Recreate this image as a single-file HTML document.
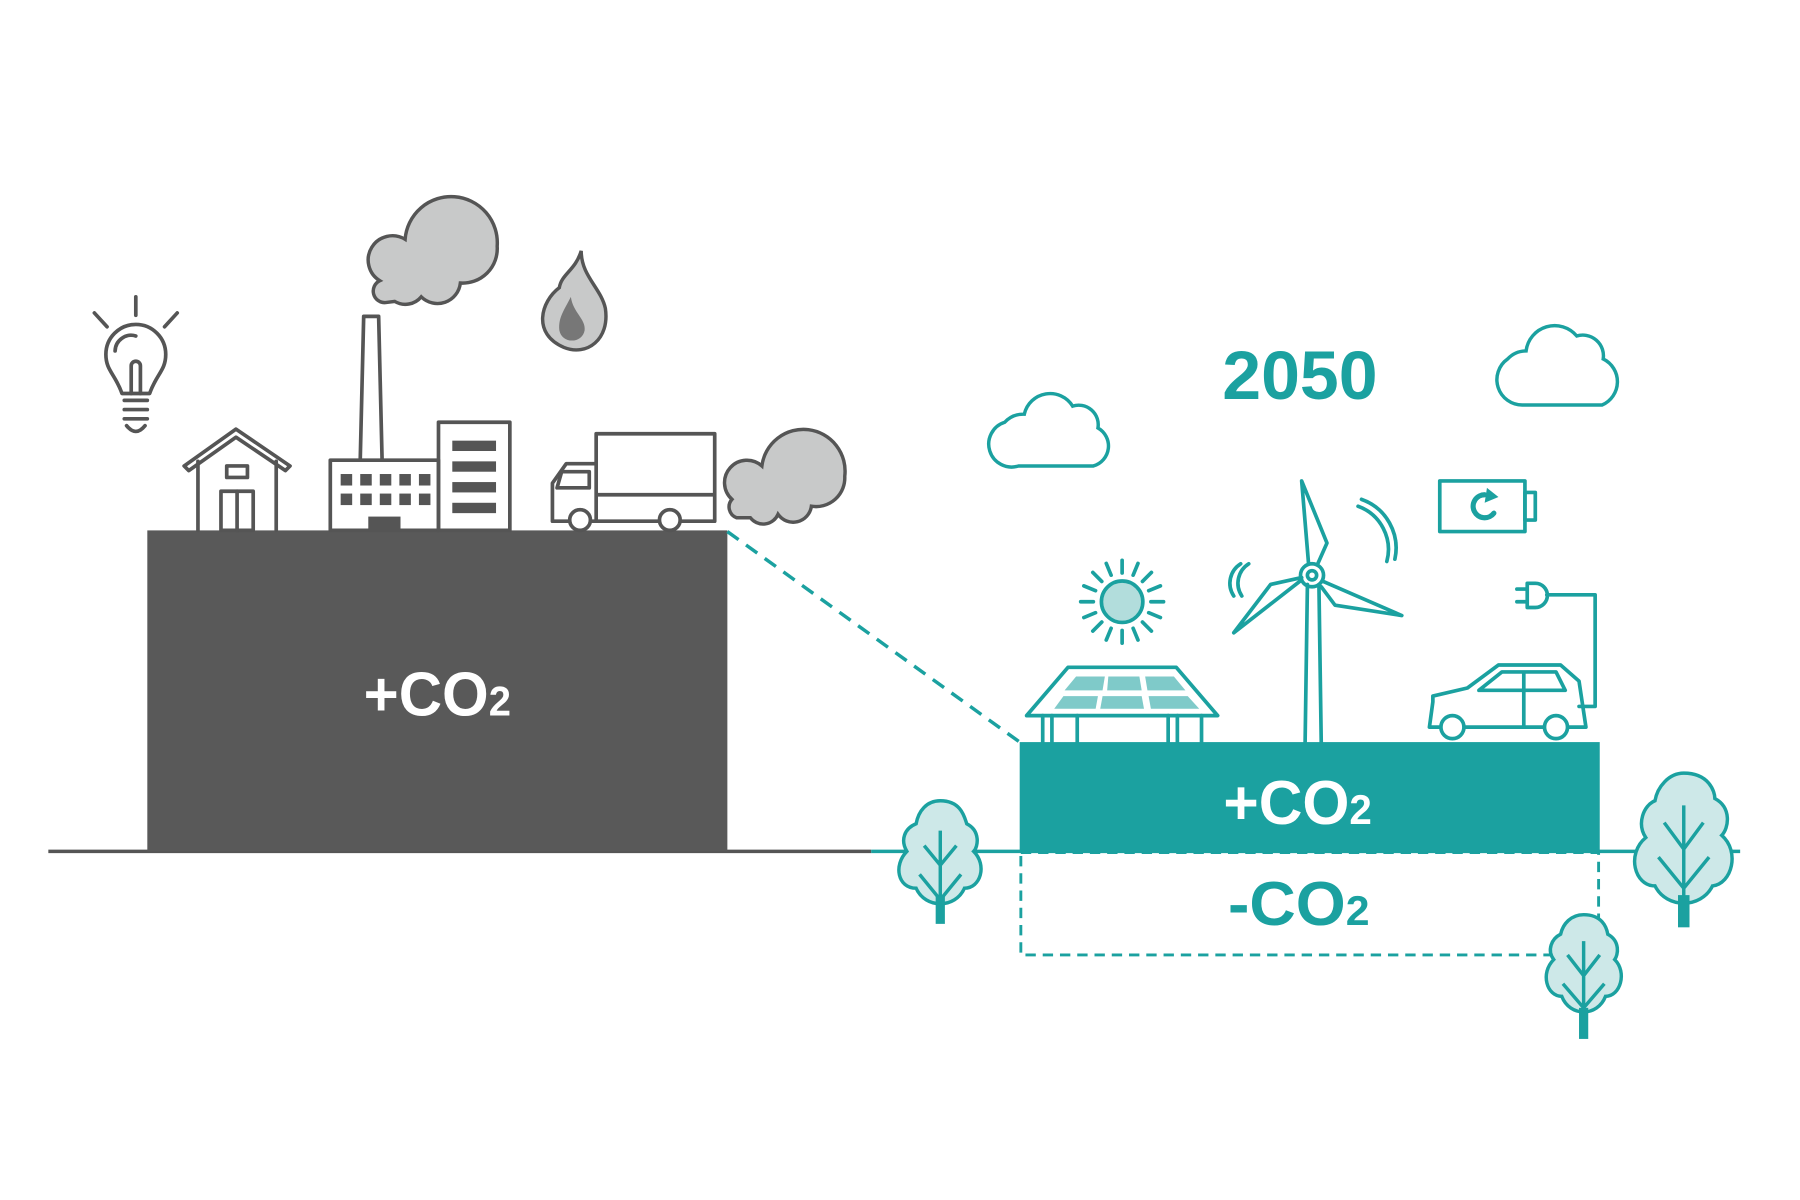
<!DOCTYPE html>
<html><head><meta charset="utf-8"><style>
html,body{margin:0;padding:0;background:#fff;width:1800px;height:1200px;overflow:hidden}
svg{display:block}
text{font-family:"Liberation Sans Narrow","Liberation Sans",sans-serif;font-weight:bold}
</style></head><body>
<svg width="1800" height="1200" viewBox="0 0 1564 1043" preserveAspectRatio="none" xmlns="http://www.w3.org/2000/svg">
<line x1="42" y1="740" x2="757" y2="740" stroke="#555" stroke-width="3"/>
<line x1="757" y1="740" x2="1512" y2="740" stroke="#1ba1a0" stroke-width="3"/>
<rect x="128" y="461" width="504" height="279" fill="#595959"/>
<text x="316" y="622" fill="#fff" font-size="54" textLength="128" lengthAdjust="spacingAndGlyphs">+CO<tspan font-size="36">2</tspan></text>
<line x1="632" y1="462" x2="886" y2="645" stroke="#1ba1a0" stroke-width="3" stroke-dasharray="12,8"/>
<rect x="886" y="645" width="504" height="95" fill="#1ba1a0"/>
<text x="1063" y="716" fill="#fff" font-size="54" textLength="129" lengthAdjust="spacingAndGlyphs">+CO<tspan font-size="36">2</tspan></text>
<rect x="887" y="741" width="502" height="89" fill="none" stroke="#1ba1a0" stroke-width="2.5" stroke-dasharray="9,6"/>
<text x="1067" y="804" fill="#1ba1a0" font-size="54" textLength="123" lengthAdjust="spacingAndGlyphs">-CO<tspan font-size="36">2</tspan></text>
<text x="1062" y="347" fill="#1ba1a0" font-size="60" textLength="135" lengthAdjust="spacingAndGlyphs">2050</text>

<g fill="none" stroke="#555" stroke-width="3.2" stroke-linejoin="round" stroke-linecap="round">
 <line x1="118" y1="258" x2="118" y2="274"/><line x1="82" y1="272" x2="93" y2="284"/><line x1="154" y1="272" x2="143" y2="284"/>
 <path d="M106 342 C100 325 92 322 92 308 A26 26 0 0 1 144 308 C144 322 136 325 130 342 Z"/>
 <path d="M114 342 V318 A4 4 0 0 1 122 318 V342"/>
 <path d="M108 348 H128 M108 356 H128 M108 364 H128 M110 370 Q118 380 126 370"/>
 <path d="M100 305 A14 14 0 0 1 118 292"/>
 <path d="M160 405 L205 373 L252 405 L248 409 L205 380 L164 409 Z"/>
 <path d="M172 401 V461 M240 401 V461"/>
 <rect x="197" y="405" width="18" height="10"/>
 <rect x="192" y="427" width="28" height="34"/><line x1="206" y1="427" x2="206" y2="461"/>
 <path d="M313 400 L316 275 H329 L332 400"/>
 <rect x="287" y="400" width="94" height="61"/>
 <rect x="381" y="367" width="62" height="94"/>
</g>
<g fill="#555">
 <rect x="296" y="412" width="10" height="10"/><rect x="313" y="412" width="10" height="10"/><rect x="330" y="412" width="10" height="10"/><rect x="347" y="412" width="10" height="10"/><rect x="364" y="412" width="10" height="10"/>
 <rect x="296" y="429" width="10" height="10"/><rect x="313" y="429" width="10" height="10"/><rect x="330" y="429" width="10" height="10"/><rect x="347" y="429" width="10" height="10"/><rect x="364" y="429" width="10" height="10"/>
 <rect x="320" y="449" width="28" height="12"/>
 <rect x="393" y="383" width="38" height="9"/><rect x="393" y="401" width="38" height="9"/><rect x="393" y="419" width="38" height="9"/><rect x="393" y="437" width="38" height="9"/>
</g>
<g fill="none" stroke="#555" stroke-width="3.2" stroke-linejoin="round">
 <rect x="518" y="377" width="103" height="76"/><line x1="518" y1="430" x2="621" y2="430"/>
 <path d="M518 403 H492 L480 420 V453 H518"/>
 <path d="M488 410 H512 V424 H484 Z"/>
 <circle cx="504" cy="452" r="9" fill="#fff"/><circle cx="582" cy="452" r="9" fill="#fff"/>
</g>
<g fill="#c8c9c9" stroke="#555" stroke-width="3">
 <path d="M335 263 A10 10 0 0 1 330 244 A16 16 0 0 1 352 208 A30 30 0 0 1 432 214 A30 30 0 0 1 400 246 A20 20 0 0 1 366 258 A18 18 0 0 1 343 262 Z"/>
 <path d="M640 450 A10 10 0 0 1 636 434 A14 14 0 0 1 662 405 A27 27 0 0 1 734 414 A25 25 0 0 1 705 440 A16 16 0 0 1 676 447 A14 14 0 0 1 652 450 Z"/>
 <path d="M505 218 C500 235 488 238 486 250 C470 262 462 290 490 302 C510 310 530 295 526 268 C522 250 505 240 505 218 Z"/>
</g>
<path d="M496 258 C490 270 485 276 486 287 C488 299 506 299 508 287 C509 277 498 272 496 258 Z" fill="#777"/>

<g fill="none" stroke="#1ba1a0" stroke-width="3">
 <path d="M885 405 A18 18 0 0 1 873 367 A22 22 0 0 1 890 360 A23 23 0 0 1 932 353 A17 17 0 0 1 954 372 A18 18 0 0 1 950 405 Z"/>
 <path d="M1323 352 A22 22 0 0 1 1310 312 A22 22 0 0 1 1326 305 A25 25 0 0 1 1370 292 A18 18 0 0 1 1393 312 A22 22 0 0 1 1392 352 Z"/>
</g>
<g fill="none" stroke="#1ba1a0" stroke-width="3.2" stroke-linecap="round" stroke-linejoin="round">
 <g transform="translate(975 523)">
  <g id="r"><line x1="0" y1="-25" x2="0" y2="-36"/></g>
  <use href="#r" transform="rotate(22.5)"/><use href="#r" transform="rotate(45)"/><use href="#r" transform="rotate(67.5)"/><use href="#r" transform="rotate(90)"/><use href="#r" transform="rotate(112.5)"/><use href="#r" transform="rotate(135)"/><use href="#r" transform="rotate(157.5)"/><use href="#r" transform="rotate(180)"/><use href="#r" transform="rotate(202.5)"/><use href="#r" transform="rotate(225)"/><use href="#r" transform="rotate(247.5)"/><use href="#r" transform="rotate(270)"/><use href="#r" transform="rotate(292.5)"/><use href="#r" transform="rotate(315)"/><use href="#r" transform="rotate(337.5)"/>
  <circle r="18" fill="#b2dddc"/>
 </g>
 <path d="M892 622 L928 580 H1022 L1058 622 Z"/>
 <path d="M906 622 V645 M914 622 V645 M936 622 V645 M1015 622 V645 M1023 622 V645 M1044 622 V645"/>
 <path d="M1136 508 L1134 645 M1146 508 L1148 645"/>
 <circle cx="1140" cy="500" r="10"/><circle cx="1140" cy="500" r="4"/>
 <path d="M1137 490 L1131 418 L1153 472 L1145 490"/>
 <path d="M1131 504 L1072 550 L1104 508 L1131 502"/>
 <path d="M1149 505 L1218 535 L1160 526 L1148 510"/>
 <path d="M1078 490 A20 20 0 0 0 1072 518 M1085 490 A20 20 0 0 0 1079 518"/>
 <path d="M1180 440 A40 40 0 0 1 1205 488 M1183 434 A45 45 0 0 1 1212 486"/>
 <rect x="1251" y="418" width="74" height="44"/><rect x="1325" y="428" width="9" height="24"/>
 <path d="M1298 446 A10 10 0 1 1 1290 430" stroke-width="4.5"/>
</g>
<path d="M1292 424 L1302 432 L1290 437 Z" fill="#1ba1a0"/>
<g fill="none" stroke="#1ba1a0" stroke-width="3.2" stroke-linecap="round" stroke-linejoin="round">
 <path d="M1327 507 H1334 A10 10 0 0 1 1334 528 H1327 Z M1318 512 H1327 M1318 523 H1327 M1344 517 H1386 V614 H1372"/>
 <path d="M1245 610 L1242 632 H1378 L1372 592 L1356 578 H1302 L1275 598 L1245 605 Z"/>
 <path d="M1285 600 L1305 584 H1352 L1360 600 Z M1324 584 V632"/>
 <circle cx="1262" cy="632" r="10" fill="#fff"/><circle cx="1352" cy="632" r="10" fill="#fff"/>
</g>
<g fill="#7fcac9">
 <path d="M925 600 L935 588 H960 L958 600 Z M963 588 H990 L992 600 H962 Z M995 588 H1020 L1030 600 H997 Z"/>
 <path d="M916 616 L924 605 H954 L952 616 Z M958 605 H992 L994 616 H956 Z M998 605 H1032 L1042 616 H1000 Z"/>
</g>
<g stroke="#1ba1a0" stroke-width="3" fill="#cde8e8">
 <path d="M817 696 C835 696 838 710 840 716 C852 722 850 736 846 740 C858 752 852 772 838 772 C830 790 804 790 796 772 C780 772 776 752 788 740 C782 730 786 720 796 716 C798 705 805 696 817 696 Z"/>
 <path d="M1463 672 C1485 672 1490 688 1490 694 C1505 702 1502 720 1496 726 C1512 740 1505 768 1488 770 C1478 790 1448 790 1438 770 C1420 770 1413 742 1430 728 C1422 716 1428 700 1438 696 C1440 684 1450 672 1463 672 Z"/>
 <path d="M1376 795 C1392 795 1396 806 1397 812 C1408 818 1406 830 1403 834 C1414 845 1408 866 1395 866 C1388 884 1364 884 1357 866 C1344 866 1338 846 1350 834 C1344 826 1348 816 1356 812 C1358 803 1365 795 1376 795 Z"/>
</g>
<g stroke="#1ba1a0" stroke-width="3" fill="none">
 <path d="M803 735 L817 752 L831 735 M799 760 L817 782 L835 760 M817 722 V800"/>
 <path d="M1446 715 L1463 738 L1480 715 M1441 745 L1463 772 L1485 745 M1463 700 V800"/>
 <path d="M1362 830 L1376 848 L1390 830 M1358 855 L1376 876 L1394 855 M1376 818 V900"/>
</g>
<g fill="#1ba1a0">
 <rect x="813" y="778" width="8" height="25"/><rect x="1458" y="778" width="10" height="28"/><rect x="1372" y="876" width="8" height="27"/>
</g>
</svg>
</body></html>
